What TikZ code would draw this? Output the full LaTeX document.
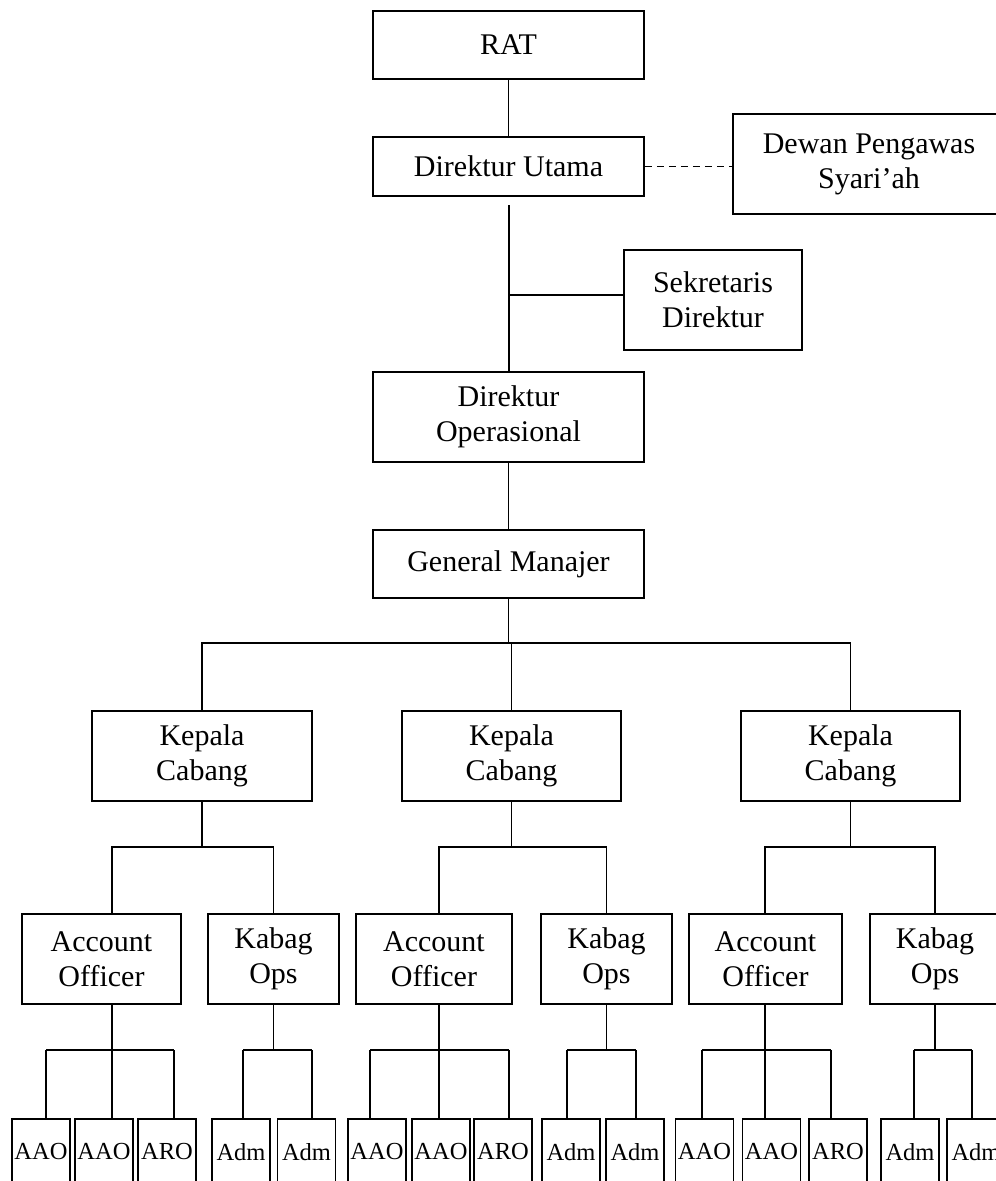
\documentclass[tikz,border=0pt]{standalone}
\usepackage{fontspec}
\setmainfont{Liberation Serif}
\usepackage{tikz}
\tikzstyle{box}  = [draw, line width=1.8pt, align=center, inner sep=0pt, font=\fontsize{30}{35}\selectfont]
\tikzstyle{link} = [line width=1.8pt]

\begin{document}
\begin{tikzpicture}[x=1pt, y=-1pt,
		leaf/.style={box, anchor=north, minimum width=58pt, minimum height=66pt, font=\fontsize{24.5}{28}\selectfont},
		wide/.style={box, minimum width=271pt}]
	\useasboundingbox (0,0) rectangle (996,1181);
	\clip (0,0) rectangle (996,1181);

	\node[wide, minimum height=68pt] (rat) at (508.5,45) {RAT};
	\node[wide, minimum height=59pt] (dirut) at (508.5,166.5) {Direktur Utama};
	\node[box, minimum width=272pt, minimum height=100pt] (dps) at (869,164) {Dewan Pengawas\\Syari’ah};
	\node[box, minimum width=178pt, minimum height=100pt] (sekdir) at (713,300) {Sekretaris\\Direktur};
	\node[wide, minimum height=90pt] (dirop) at (508.5,417) {Direktur\\Operasional};
	\node[wide, minimum height=68pt] (gm) at (508.5,564) {General Manajer};

	\node[box, minimum width=220pt, minimum height=90pt] (kc1) at (202,756) {Kepala\\Cabang};
	\node[box, minimum width=219pt, minimum height=90pt] (kc2) at (511.5,756) {Kepala\\Cabang};
	\node[box, minimum width=219pt, minimum height=90pt] (kc3) at (850.5,756) {Kepala\\Cabang};

	\node[box, minimum width=159pt, minimum height=90pt] (ao1) at (101.5,959) {Account\\Officer};
	\node[box, minimum width=131pt, minimum height=90pt] (kb1) at (273.5,959) {Kabag\\Ops};
	\node[box, minimum width=156pt, minimum height=90pt] (ao2) at (434,959) {Account\\Officer};
	\node[box, minimum width=131pt, minimum height=90pt] (kb2) at (606.5,959) {Kabag\\Ops};
	\node[box, minimum width=153pt, minimum height=90pt] (ao3) at (765.5,959) {Account\\Officer};
	\node[box, minimum width=130pt, minimum height=90pt] (kb3) at (935,959) {Kabag\\Ops};

	\foreach \n/\cx/\lx/\t in {
			l1/41/46/AAO, l2/104/112/AAO, l3/167/174/ARO, l4/241/243/Adm, l5/306.5/312/Adm,
			l6/377/370/AAO, l7/441/439/AAO, l8/503/509/ARO, l9/571/567/Adm, l10/635/636/Adm,
			l11/704.5/702/AAO, l12/771.5/765/AAO, l13/838/831/ARO, l14/910/914/Adm, l15/976/972/Adm}
		{
			\node[leaf] (\n) at (\cx,1118) {\t};
			\coordinate (j\n) at (\lx,1050);
			\draw[link] (j\n) -- (j\n |- \n.north);
		}

	\coordinate (dgap) at (509,205);
	\coordinate (sj) at (509,295);
	\coordinate (gbus) at (0,643);
	\coordinate (kbus) at (0,847);

	\draw[link] (rat) -- (dirut);
	\draw[link, dash pattern=on 7pt off 5pt] (dirut.east) -- (dirut.east -| dps.west);
	\draw[link] (dgap) -- (dgap |- dirop.north);
	\draw[link] (sj) -- (sj -| sekdir.west);
	\draw[link] (dirop) -- (gm);

	\draw[link] (gm.south) -- (gm.south |- gbus);
	\draw[link] (kc1.north) |- (kc3.north |- gbus) -- (kc3.north);
	\draw[link] (kc2.north) -- (kc2.north |- gbus);

	\draw[link] (kc1.south) -- (kc1.south |- kbus);
	\draw[link] (ao1.north -| jl2) |- (kb1.north |- kbus) -- (kb1.north);
	\draw[link] (kc2.south) -- (kc2.south |- kbus);
	\draw[link] (ao2.north -| jl7) |- (kb2.north |- kbus) -- (kb2.north);
	\draw[link] (kc3.south) -- (kc3.south |- kbus);
	\draw[link] (ao3.north -| jl12) |- (kb3.north |- kbus) -- (kb3.north);

	\draw[link] (ao1.south -| jl2) -- (jl2);
	\draw[link] (jl1) -- (jl3);
	\draw[link] (kb1.south) -- (kb1.south |- jl4);
	\draw[link] (jl4) -- (jl5);
	\draw[link] (ao2.south -| jl7) -- (jl7);
	\draw[link] (jl6) -- (jl8);
	\draw[link] (kb2.south) -- (kb2.south |- jl9);
	\draw[link] (jl9) -- (jl10);
	\draw[link] (ao3.south -| jl12) -- (jl12);
	\draw[link] (jl11) -- (jl13);
	\draw[link] (kb3.south) -- (kb3.south |- jl14);
	\draw[link] (jl14) -- (jl15);
\end{tikzpicture}
\end{document}
